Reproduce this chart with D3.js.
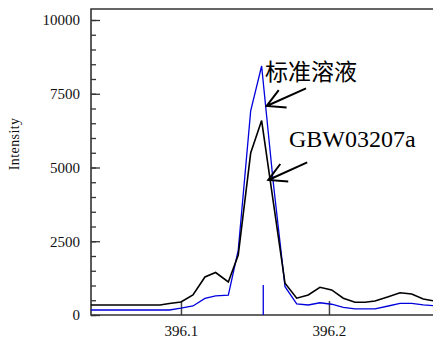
<!DOCTYPE html>
<html>
<head>
<meta charset="utf-8">
<script src="https://cdn.jsdelivr.net/npm/d3@7"></script>
<style>
body { margin: 0; background: #fff; }
svg { display: block; }
svg text { font-family: "Times New Roman", Times, Tinos, "Liberation Serif", "DejaVu Serif", serif; }
svg text.cjk { font-family: "Noto Sans CJK SC", sans-serif; }
</style>
</head>
<body>
<svg width="433" height="339"></svg>
<script>
// wavelength (nm) of each sample point
const wavelength = [396.0392, 396.0858, 396.0922, 396.1000, 396.1081, 396.1162, 396.1234, 396.1320,
  396.1387, 396.1471, 396.1545, 396.1624, 396.1703, 396.1782, 396.1860, 396.1939, 396.2018,
  396.2097, 396.2176, 396.2243, 396.2311, 396.2401, 396.2480, 396.2559, 396.2637, 396.2703];
// GBW03207a (black)
const sample = [340, 340, 390, 440, 680, 1290, 1440, 1120,
  2030, 5490, 6590, 3830, 1075, 570, 680, 940, 850,
  570, 430, 430, 475, 620, 755, 710, 540, 485];
// 标准溶液 (blue)
const standard = [170, 170, 170, 230, 305, 565, 645, 670,
  2200, 6920, 8440, 4475, 960, 375, 340, 415, 365,
  260, 205, 205, 205, 305, 395, 395, 340, 315];

const yMajor = [0, 2500, 5000, 7500, 10000];
const xTicks = [396.1, 396.2];
const markerX = 396.1556, markerH = 1020;

const labels = ["标准溶液", "GBW03207a"];
const labelAt = [[396.1568, 7966], [396.1730, 5695]];
const arrowTip = [[396.1579, 7085], [396.1590, 4576]];
const arrowTail = [[396.1845, 7685], [396.1853, 5176]];

const mLeft = 91, mRight = 433, mTop = 9, mBottom = 315;

const svg = d3.select("svg");
const x = d3.scaleLinear().domain([396.0392, 396.2703]).range([mLeft, mRight]);
const y = d3.scaleLinear().domain([0, 10000]).range([mBottom, 20]);

const axisColor = "#333";

// minor y ticks
svg.append("g")
  .attr("transform", "translate(" + mLeft + ",0)")
  .call(d3.axisLeft(y).ticks(20).tickSize(-5).tickSizeOuter(0).tickFormat(""))
  .call(g => g.select(".domain").remove())
  .call(g => g.selectAll("line").attr("stroke", axisColor).attr("stroke-width", 1.3));

// major y ticks
svg.append("g")
  .attr("transform", "translate(" + mLeft + ",0)")
  .call(d3.axisLeft(y).tickValues(yMajor).tickSize(-9).tickPadding(11).tickSizeOuter(0).tickFormat(d3.format("d")))
  .call(g => g.select(".domain").remove())
  .call(g => g.selectAll("line").attr("stroke", axisColor).attr("stroke-width", 1.3))
  .call(g => g.selectAll("text").attr("fill", "#111").style("font-size", "15px"));

// x ticks
svg.append("g")
  .attr("transform", "translate(0," + mBottom + ")")
  .call(d3.axisBottom(x).tickValues(xTicks).tickSize(-14).tickPadding(9).tickSizeOuter(0).tickFormat(d3.format(".1f")))
  .call(g => g.select(".domain").remove())
  .call(g => g.selectAll("line").attr("stroke", "#444").attr("stroke-width", 1.5))
  .call(g => g.selectAll("text").attr("fill", "#111").attr("dy", "0.78em").style("font-size", "15px"));

// frame
svg.append("path")
  .attr("d", "M" + mRight + "," + mTop + "H" + mLeft + "V" + mBottom + "H" + mRight)
  .attr("fill", "none")
  .attr("stroke", axisColor)
  .attr("stroke-width", 1.6);

// y label
svg.append("text")
  .attr("transform", "translate(19," + y(5800) + ") rotate(-90)")
  .attr("text-anchor", "middle")
  .style("font-size", "14px")
  .style("letter-spacing", "0.4px")
  .attr("fill", "#111")
  .text("Intensity");

const line = d3.line().x((d, i) => x(wavelength[i])).y(d => y(d));

svg.append("path")
  .datum(standard)
  .attr("fill", "none")
  .attr("stroke", "#0000dd")
  .attr("stroke-width", 1.3)
  .attr("d", line);

svg.append("path")
  .datum(sample)
  .attr("fill", "none")
  .attr("stroke", "#000")
  .attr("stroke-width", 1.6)
  .attr("d", line);

// blue marker at line position
svg.append("line")
  .attr("x1", x(markerX)).attr("x2", x(markerX))
  .attr("y1", y(0)).attr("y2", y(markerH))
  .attr("stroke", "#0000dd")
  .attr("stroke-width", 1.3);

// annotations
labels.forEach((t, i) => {
  svg.append("text")
    .attr("class", i == 0 ? "cjk" : null)
    .attr("x", x(labelAt[i][0]))
    .attr("y", y(labelAt[i][1]))
    .style("font-size", i == 0 ? "23px" : "24px")
    .attr("fill", "#000")
    .text(t);

  const tx = x(arrowTip[i][0]), ty = y(arrowTip[i][1]);
  const ex = x(arrowTail[i][0]), ey = y(arrowTail[i][1]);
  const a = Math.atan2(ey - ty, ex - tx);
  const h = 20, spread = 0.5;
  const h1 = [tx + h * Math.cos(a - spread), ty + h * Math.sin(a - spread)];
  const h2 = [tx + h * Math.cos(a + spread), ty + h * Math.sin(a + spread)];
  svg.append("path")
    .attr("d", "M" + ex + "," + ey + "L" + tx + "," + ty +
      "M" + h1[0] + "," + h1[1] + "L" + tx + "," + ty + "L" + h2[0] + "," + h2[1])
    .attr("fill", "none")
    .attr("stroke", "#000")
    .attr("stroke-width", 2);
});
</script>
</body>
</html>
